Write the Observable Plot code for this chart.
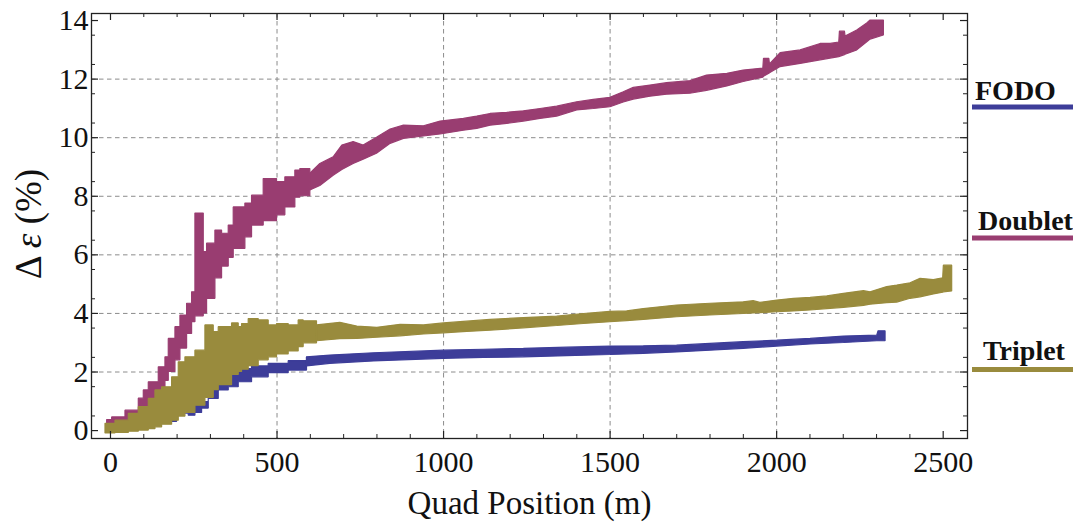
<!DOCTYPE html>
<html><head><meta charset="utf-8">
<script src="https://cdn.jsdelivr.net/npm/d3@7"></script>
<script src="https://cdn.jsdelivr.net/npm/@observablehq/plot@0.6"></script>
<style>
body{margin:0;background:#fff}
#chart{position:relative;width:1073px;height:523px}
</style>
</head><body><div id="chart"></div>
<script>
// ---- data ----
const seriesNames  = ["FODO", "Doublet", "Triplet"];
const seriesColors = ["#3d3d99", "#993d71", "#998b3d"];
// x below which the band is drawn as stairs, above which as a smooth band
const stairLimit   = [590, 600, 620];

const fodoX  = [-12, 50, 100, 150, 200, 235, 255, 275, 295, 325, 355, 385, 425, 475, 535, 590, 660, 791, 1001, 1121, 1241, 1371, 1501, 1601, 1701, 1801, 1901, 2002, 2102, 2202, 2302, 2306, 2327];
const fodoLo = [0.0, 0.05, 0.15, 0.3, 0.58, 0.51, 0.6, 0.75, 1.08, 1.37, 1.48, 1.65, 1.82, 1.96, 2.05, 2.19, 2.28, 2.36, 2.45, 2.48, 2.5, 2.54, 2.58, 2.62, 2.67, 2.73, 2.79, 2.87, 2.94, 2.99, 3.05, 3.05, 3.05];
const fodoHi = [0.1, 0.2, 0.3, 0.45, 0.66, 0.74, 0.91, 0.97, 1.59, 1.76, 1.99, 2.1, 2.19, 2.28, 2.37, 2.5, 2.56, 2.64, 2.73, 2.76, 2.79, 2.83, 2.87, 2.88, 2.9, 2.96, 3.02, 3.07, 3.13, 3.21, 3.24, 3.39, 3.39];

const doubletX  = [-10, 5, 45, 85, 100, 115, 145, 165, 175, 195, 210, 230, 245, 255, 280, 290, 315, 335, 355, 370, 405, 425, 460, 500, 525, 555, 570, 600, 630, 670, 696, 730, 760, 800, 841, 881, 941, 991, 1061, 1101, 1141, 1191, 1241, 1291, 1341, 1401, 1451, 1501, 1541, 1571, 1621, 1671, 1741, 1791, 1852, 1901, 1960, 1962, 1978, 1980, 2012, 2072, 2132, 2162, 2188, 2190, 2205, 2207, 2242, 2272, 2282, 2322];
const doubletLo = [0.0, 0.1, 0.25, 0.5, 0.7, 0.9, 1.3, 1.7, 2.0, 2.4, 2.8, 3.3, 3.7, 3.9, 4.0, 4.5, 5.2, 5.6, 5.9, 6.2, 6.6, 7.0, 7.15, 7.35, 7.62, 7.95, 8.0, 8.2, 8.35, 8.7, 8.9, 9.1, 9.25, 9.45, 9.79, 9.96, 10.04, 10.11, 10.24, 10.3, 10.41, 10.47, 10.55, 10.64, 10.72, 10.93, 10.98, 11.04, 11.2, 11.3, 11.4, 11.47, 11.5, 11.6, 11.75, 11.9, 12.05, 12.08, 12.18, 12.2, 12.41, 12.52, 12.64, 12.7, 12.75, 12.76, 12.82, 12.83, 12.98, 13.26, 13.35, 13.49];
const doubletHi = [0.36, 0.45, 0.68, 1.09, 1.37, 1.65, 2.16, 2.5, 3.13, 3.53, 3.93, 4.33, 4.72, 7.41, 6.09, 6.38, 6.83, 6.72, 7.0, 7.62, 7.75, 8.02, 8.59, 8.48, 8.65, 8.88, 8.93, 8.77, 9.1, 9.33, 9.73, 9.85, 9.73, 10.0, 10.28, 10.41, 10.39, 10.55, 10.64, 10.72, 10.81, 10.85, 10.9, 10.98, 11.06, 11.21, 11.29, 11.36, 11.55, 11.7, 11.78, 11.86, 11.93, 12.12, 12.18, 12.29, 12.36, 12.69, 12.69, 12.5, 12.89, 12.98, 13.2, 13.2, 13.25, 13.62, 13.62, 13.45, 13.66, 13.9, 14.0, 14.0];

const tripletX  = [-15, 15, 55, 85, 115, 135, 155, 185, 205, 225, 255, 285, 310, 325, 365, 385, 395, 415, 445, 475, 500, 535, 565, 580, 620, 690, 741, 801, 871, 941, 1001, 1071, 1141, 1241, 1341, 1421, 1501, 1551, 1601, 1701, 1801, 1901, 1931, 1951, 2002, 2052, 2102, 2152, 2202, 2262, 2282, 2332, 2362, 2402, 2432, 2472, 2500, 2502, 2527];
const tripletLo = [-0.1, -0.08, -0.04, 0.0, 0.05, 0.11, 0.2, 0.34, 0.48, 0.6, 0.85, 1.12, 1.38, 1.55, 1.9, 2.0, 2.08, 2.2, 2.4, 2.5, 2.6, 2.7, 2.85, 2.98, 3.05, 3.12, 3.13, 3.17, 3.22, 3.28, 3.32, 3.37, 3.41, 3.49, 3.57, 3.64, 3.7, 3.74, 3.78, 3.87, 3.93, 3.98, 4.0, 4.01, 4.04, 4.07, 4.1, 4.15, 4.19, 4.26, 4.3, 4.35, 4.37, 4.5, 4.55, 4.65, 4.71, 4.72, 4.75];
const tripletHi = [0.23, 0.34, 0.57, 0.8, 1.08, 1.37, 1.48, 1.82, 2.33, 2.5, 2.73, 3.59, 3.36, 3.53, 3.66, 3.53, 3.64, 3.81, 3.76, 3.59, 3.64, 3.59, 3.76, 3.73, 3.59, 3.68, 3.55, 3.51, 3.61, 3.59, 3.66, 3.72, 3.78, 3.84, 3.89, 3.98, 4.05, 4.07, 4.15, 4.27, 4.33, 4.38, 4.42, 4.36, 4.44, 4.5, 4.53, 4.58, 4.67, 4.76, 4.72, 4.9, 4.95, 5.03, 5.18, 5.14, 5.2, 5.63, 5.63];

const xMajorTicks = [0, 500, 1000, 1500, 2000, 2500];
const yMajorTicks = [0, 2, 4, 6, 8, 10, 12, 14];
const xGridLines  = [500, 1000, 1500, 2000];
const yGridLines  = [2, 4, 6, 8, 10, 12];
const xLabel = "Quad Position (m)";

// ---- build tables ----
function table(xs, lo, hi) { return xs.map((x, i) => ({x, lo: lo[i], hi: hi[i]})); }
const seriesData = [table(fodoX, fodoLo, fodoHi), table(doubletX, doubletLo, doubletHi), table(tripletX, tripletLo, tripletHi)];

const W = 1073, H = 523, mL = 91, mR = 106, mT = 13, mB = 85;
const iW = W - mL - mR, iH = H - mT - mB;
const xMinor = d3.range(100, 2600, 100).filter(v => v % 500 !== 0);
const yMinor = d3.range(1, 29, 2).map(v => v / 2);
const font = "'Liberation Serif', 'Times New Roman', serif";
const tickColor = "#222";

function bandMarks(i) {
  const c = seriesColors[i], lim = stairLimit[i];
  const common = {x: "x", y1: "lo", y2: "hi", fill: c, stroke: c, strokeWidth: 1.2, strokeLinejoin: "miter"};
  return [
    Plot.areaY(seriesData[i].filter(d => d.x <= lim), {...common, curve: "step-after"}),
    Plot.areaY(seriesData[i].filter(d => d.x >= lim), {...common, curve: "linear"})
  ];
}

const plot = Plot.plot({
  width: W, height: H,
  marginLeft: mL, marginRight: mR, marginTop: mT, marginBottom: mB,
  x: {domain: [-57, 2573]},
  y: {domain: [-0.27, 14.24]},
  style: {fontFamily: font, background: "#fff", color: "#111"},
  marks: [
    Plot.gridX(xGridLines, {stroke: "#8c8c8c", strokeOpacity: 1, strokeDasharray: "4.5,3.5"}),
    Plot.gridY(yGridLines, {stroke: "#8c8c8c", strokeOpacity: 1, strokeDasharray: "4.5,3.5"}),
    ...bandMarks(0), ...bandMarks(1), ...bandMarks(2),
    Plot.frame({stroke: tickColor, strokeWidth: 1.3}),
    Plot.ruleX(xMajorTicks, {insetBottom: iH - 7, stroke: tickColor, strokeWidth: 1.2}),
    Plot.ruleX(xMajorTicks, {insetTop: iH - 7, stroke: tickColor, strokeWidth: 1.2}),
    Plot.ruleX(xMinor, {insetBottom: iH - 4, stroke: tickColor}),
    Plot.ruleX(xMinor, {insetTop: iH - 4, stroke: tickColor}),
    Plot.ruleY(yMajorTicks, {insetRight: iW - 7, stroke: tickColor, strokeWidth: 1.2}),
    Plot.ruleY(yMajorTicks, {insetLeft: iW - 7, stroke: tickColor, strokeWidth: 1.2}),
    Plot.ruleY(yMinor, {insetRight: iW - 4, stroke: tickColor}),
    Plot.ruleY(yMinor, {insetLeft: iW - 4, stroke: tickColor}),
    Plot.axisX(xMajorTicks, {tickSize: 0, tickPadding: 12, fontSize: 30, fontFamily: font, tickFormat: d => String(d), label: null}),
    Plot.axisY(yMajorTicks, {tickSize: 0, tickPadding: 3, fontSize: 30, fontFamily: font, tickFormat: d => String(d), label: null})
  ]
});
document.getElementById("chart").appendChild(plot);

// ---- axis titles and legend ----
const svg = d3.select(plot);
const yl = svg.append("text")
  .attr("transform", "translate(41,224) rotate(-90)")
  .attr("text-anchor", "middle")
  .attr("font-family", font).attr("font-size", 37).attr("fill", "#111");
yl.append("tspan").text("Δ ");
yl.append("tspan").attr("font-style", "italic").text("ε");
yl.append("tspan").text(" (%)");

svg.append("text")
  .attr("x", 529.5).attr("y", 514)
  .attr("text-anchor", "middle")
  .attr("font-family", font).attr("font-size", 33).attr("fill", "#111")
  .text(xLabel);

const legendTextY = [100, 230, 360];
const legendLineY = [107, 238, 369.5];
const legendTextX = [975, 978, 983];
seriesNames.forEach((name, i) => {
  svg.append("text")
    .attr("x", legendTextX[i]).attr("y", legendTextY[i])
    .attr("text-anchor", "start")
    .attr("font-family", font).attr("font-weight", "bold").attr("font-size", 28).attr("fill", "#111")
    .text(name);
  svg.append("line")
    .attr("x1", 972).attr("x2", 1073).attr("y1", legendLineY[i]).attr("y2", legendLineY[i])
    .attr("stroke", seriesColors[i]).attr("stroke-width", 5);
});
</script>
</body></html>
